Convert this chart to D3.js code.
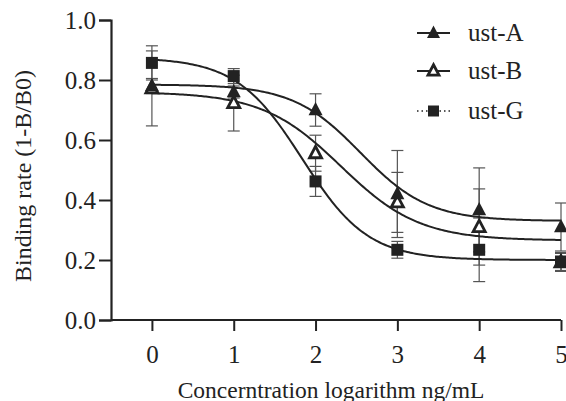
<!DOCTYPE html>
<html><head><meta charset="utf-8">
<script src="https://cdn.jsdelivr.net/npm/d3@7/dist/d3.min.js"></script>
<style>body{margin:0;background:#fff}svg{display:block}</style>
</head><body>
<svg id="c" width="566" height="401"></svg>
<script>
const xValues = [0, 1, 2, 3, 4, 5];
const seriesNames = ["ust-A", "ust-B", "ust-G"];
const ustA = [0.780, 0.760, 0.700, 0.420, 0.367, 0.310];
const ustB = [0.772, 0.723, 0.556, 0.392, 0.310, 0.192];
const ustG = [0.857, 0.813, 0.462, 0.234, 0.234, 0.195];
const errA = [0.025, 0.020, 0.054, 0.145, 0.140, 0.080];
const errB = [0.125, 0.093, 0.060, 0.100, 0.127, 0.030];
const errG = [0.057, 0.025, 0.050, 0.028, 0.106, 0.030];
// four-parameter logistic fits: [top, bottom, logEC50, hill]
const fitA = [0.785, 0.330, 2.55, 1.05];
const fitB = [0.760, 0.265, 2.31, 0.906];
const fitG = [0.875, 0.200, 1.837, 1.079];
const yTicks = [0, 0.2, 0.4, 0.6, 0.8, 1.0];
const xTicks = [0, 1, 2, 3, 4, 5];

const series = [
  {name: seriesNames[1], vals: ustB, err: errB, fit: fitB, sym: "triOpen"},
  {name: seriesNames[0], vals: ustA, err: errA, fit: fitA, sym: "tri"},
  {name: seriesNames[2], vals: ustG, err: errG, fit: fitG, sym: "sq"}
];

const svg = d3.select("#c");
const ink = "#222";
const font = "'Liberation Serif', 'Times New Roman', serif";
const x = d3.scaleLinear().domain([-0.5, 5]).range([111, 561]);
const y = d3.scaleLinear().domain([0, 1]).range([320, 20]);

// axes
const yAxis = svg.append("g").attr("transform", "translate(111,0)")
  .call(d3.axisLeft(y).tickValues(yTicks).tickFormat(d3.format(".1f")).tickSizeOuter(0).tickSize(12).tickPadding(3));
const xAxis = svg.append("g").attr("transform", "translate(0,320)")
  .call(d3.axisBottom(x).tickValues(xTicks).tickFormat(d3.format("d")).tickSizeOuter(0).tickSize(11).tickPadding(14));
[yAxis, xAxis].forEach(a => {
  a.select(".domain").attr("stroke", ink).attr("stroke-width", 2.2);
  a.selectAll(".tick line").attr("stroke", ink).attr("stroke-width", 2);
  a.selectAll(".tick text").attr("fill", ink).attr("font-family", font).attr("font-size", 25);
});
xAxis.select(".domain").attr("d", "M111,0H561");

// axis titles
svg.append("text").attr("transform", "translate(31,176) rotate(-90)")
  .attr("text-anchor", "middle").attr("font-family", font).attr("font-size", 24).attr("fill", ink)
  .text("Binding rate (1-B/B0)");
svg.append("text").attr("x", 331).attr("y", 398)
  .attr("text-anchor", "middle").attr("font-family", font).attr("font-size", 23.5).attr("fill", ink)
  .text("Concerntration logarithm ng/mL");

// error bars
const cap = 6;
series.forEach(s => {
  const g = svg.append("g").attr("stroke", "#555").attr("stroke-width", 1.2);
  xValues.forEach((xv, i) => {
    const cx = x(xv), t = y(s.vals[i] + s.err[i]), b = y(s.vals[i] - s.err[i]);
    g.append("line").attr("x1", cx).attr("x2", cx).attr("y1", t).attr("y2", b);
    g.append("line").attr("x1", cx - cap).attr("x2", cx + cap).attr("y1", t).attr("y2", t);
    g.append("line").attr("x1", cx - cap).attr("x2", cx + cap).attr("y1", b).attr("y2", b);
  });
});

// fitted curves
const logistic = (p, xv) => p[1] + (p[0] - p[1]) / (1 + Math.pow(10, (xv - p[2]) * p[3]));
const line = d3.line().x(d => x(d[0])).y(d => y(d[1])).curve(d3.curveLinear);
series.forEach(s => {
  const pts = d3.range(0, 5.0001, 0.02).map(xv => [xv, logistic(s.fit, xv)]);
  svg.append("path").attr("d", line(pts)).attr("fill", "none").attr("stroke", ink).attr("stroke-width", 2);
});

// markers
function marker(g, type, cx, cy, size) {
  if (type === "sq") {
    g.append("rect").attr("x", cx - size/2).attr("y", cy - size/2).attr("width", size).attr("height", size).attr("fill", ink);
  } else {
    const h = size * 0.95, w = size;
    const p = `M${cx},${cy - h*0.6}L${cx + w/2},${cy + h*0.4}L${cx - w/2},${cy + h*0.4}Z`;
    if (type === "tri") g.append("path").attr("d", p).attr("fill", ink);
    else g.append("path").attr("d", p).attr("fill", "#fff").attr("stroke", ink).attr("stroke-width", 2.8).attr("stroke-linejoin", "miter");
  }
}
series.forEach(s => {
  const g = svg.append("g");
  xValues.forEach((xv, i) => marker(g, s.sym, x(xv), y(s.vals[i]), s.sym === "sq" ? 12 : (s.sym === "tri" ? 14 : 12)));
});

// legend
const legendOrder = [series[1], series[0], series[2]];
const legendY = [33, 71, 111];
legendOrder.forEach((s, i) => {
  const g = svg.append("g");
  const ly = legendY[i];
  g.append("line").attr("x1", 417).attr("x2", 450).attr("y1", ly).attr("y2", ly)
    .attr("stroke", ink).attr("stroke-width", s.sym === "sq" ? 1.5 : 2)
    .attr("stroke-dasharray", s.sym === "sq" ? "1.5,3" : null);
  marker(g, s.sym, 433.5, ly, s.sym === "sq" ? 11 : (s.sym === "tri" ? 13 : 11));
  g.append("text").attr("x", 468).attr("y", ly + 8).attr("font-family", font).attr("font-size", 25).attr("fill", ink).text(s.name);
});
</script>
</body></html>
